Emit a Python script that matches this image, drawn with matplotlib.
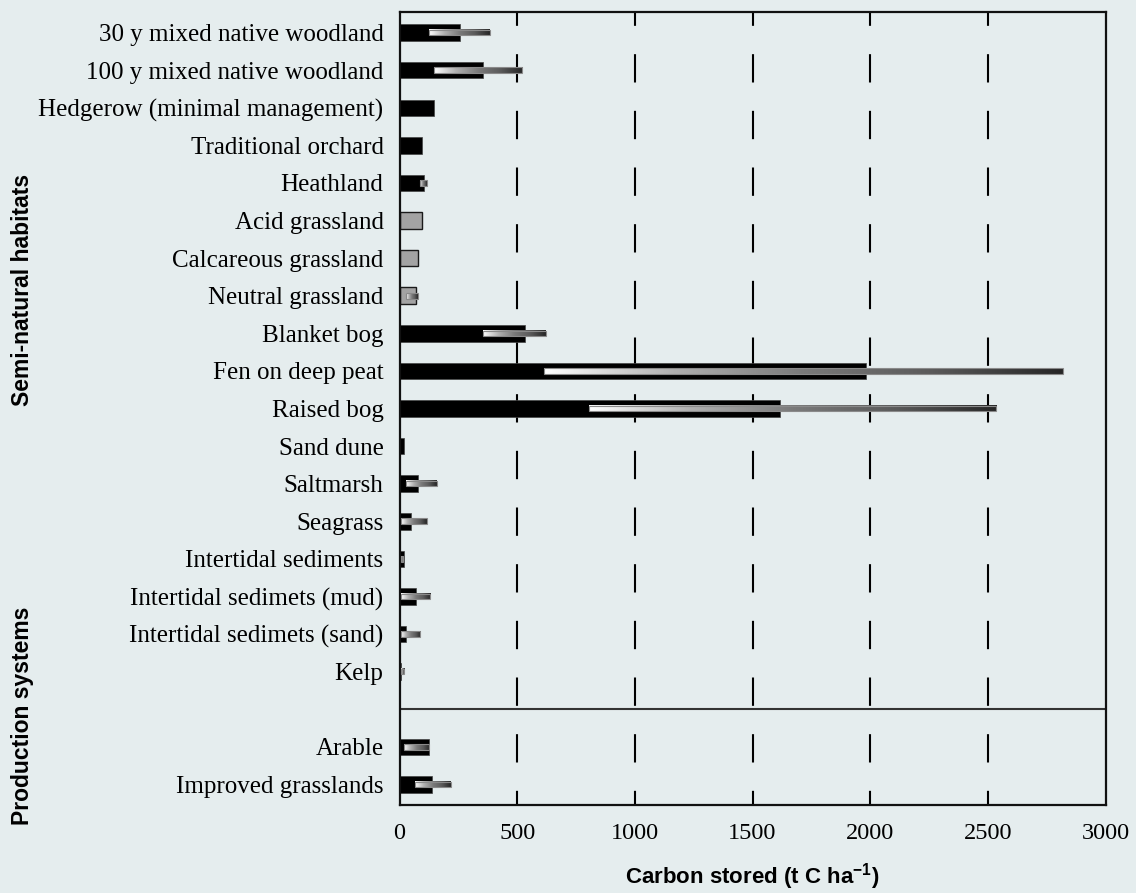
import numpy as np
import matplotlib
matplotlib.use("Agg")
import matplotlib.pyplot as plt
from matplotlib.colors import LinearSegmentedColormap
from matplotlib.patches import Rectangle

# --- dados ---
habitats = ["30 y mixed native woodland", "100 y mixed native woodland",
            "Hedgerow (minimal management)", "Traditional orchard", "Heathland",
            "Acid grassland", "Calcareous grassland", "Neutral grassland",
            "Blanket bog", "Fen on deep peat", "Raised bog", "Sand dune",
            "Saltmarsh", "Seagrass", "Intertidal sediments",
            "Intertidal sedimets (mud)", "Intertidal sedimets (sand)", "Kelp"]
hab_vals = [255, 355, 145, 95, 105, 97, 77, 69, 533, 1982, 1615, 20,
            79, 47, 19, 69, 29, 6]
hab_lo = [127, 148, None, None, 87, None, None, 28, 356, 615, 803, None,
          29, 8, 6, 6, 6, 6]
hab_hi = [385, 522, None, None, 115, None, None, 77, 622, 2820, 2535, None,
          158, 118, 16, 130, 87, 19]

production = ["Arable", "Improved grasslands"]
prod_vals = [127, 137]
prod_lo = [20, 66]
prod_hi = [127, 218]

grey_bars = ["Acid grassland", "Calcareous grassland", "Neutral grassland"]
xticks = [0, 500, 1000, 1500, 2000, 2500, 3000]

# --- layout ---
BG = "#e5edee"
plt.rcParams["lines.scale_dashes"] = False
plt.rcParams["mathtext.default"] = "regular"

labels = habitats + production
vals = hab_vals + prod_vals
lo = hab_lo + prod_lo
hi = hab_hi + prod_hi
ypos = list(range(len(habitats))) + [len(habitats) + 1 + i for i in range(len(production))]

fig = plt.figure(figsize=(11.36, 8.93), dpi=100, facecolor=BG)
ax = fig.add_axes([0.3517, 0.0985, 0.6215, 0.8881], facecolor=BG)

ramp = LinearSegmentedColormap.from_list("ramp", ["#ffffff", "#b0b0b0", "#7a7a7a", "#5a5a5a", "#262626"])
grad = np.linspace(0, 1, 256).reshape(1, -1)

for x in xticks[1:-1]:
    ax.axvline(x, color="black", lw=1.5, linestyle=(10.2, (20.4, 20.4)), zorder=1)
ax.axhline(len(habitats), color="#333333", lw=1.5, zorder=1)

for name, y, v, a, b in zip(labels, ypos, vals, lo, hi):
    if name in grey_bars:
        ax.barh(y, v, height=0.44, color="#a3a3a3", edgecolor="#1a1a1a", lw=1.0, zorder=2)
    else:
        ax.barh(y, v, height=0.44, color="black", edgecolor="#444444", lw=0.5, zorder=2)
    if a is not None:
        h = 0.15
        ax.imshow(grad, extent=[a, b, y + h / 2, y - h / 2], aspect="auto",
                  cmap=ramp, interpolation="bilinear", zorder=3)
        ax.add_patch(Rectangle((a, y - h / 2), b - a, h, fill=False,
                               edgecolor="#8a8a8a", lw=0.8, zorder=4))

ax.set_xlim(0, 3000)
ax.set_ylim(len(labels) + 0.55, -0.55)
ax.set_yticks(ypos)
ax.set_yticklabels(labels, fontfamily="Liberation Serif", fontsize=18)
ax.set_xticks(xticks)
ax.set_xticklabels([str(t) for t in xticks], fontfamily="Liberation Serif", fontsize=17.5)
ax.tick_params(length=0)
ax.tick_params(axis="y", pad=11.5)
ax.tick_params(axis="x", pad=13)
for s in ax.spines.values():
    s.set_linewidth(1.6)
    s.set_color("#111111")

ax.set_xlabel("Carbon stored (t C ha$^{-1}$)", fontfamily="Liberation Sans",
              fontweight="bold", fontsize=16, labelpad=12)

fig.text(0.0194, 0.675, "Semi-natural habitats", rotation=90, ha="center", va="center",
         fontfamily="Liberation Sans", fontweight="bold", fontsize=16.5)
fig.text(0.0194, 0.198, "Production systems", rotation=90, ha="center", va="center",
         fontfamily="Liberation Sans", fontweight="bold", fontsize=16.5)

fig.savefig("out.png", dpi=100, facecolor=BG)
